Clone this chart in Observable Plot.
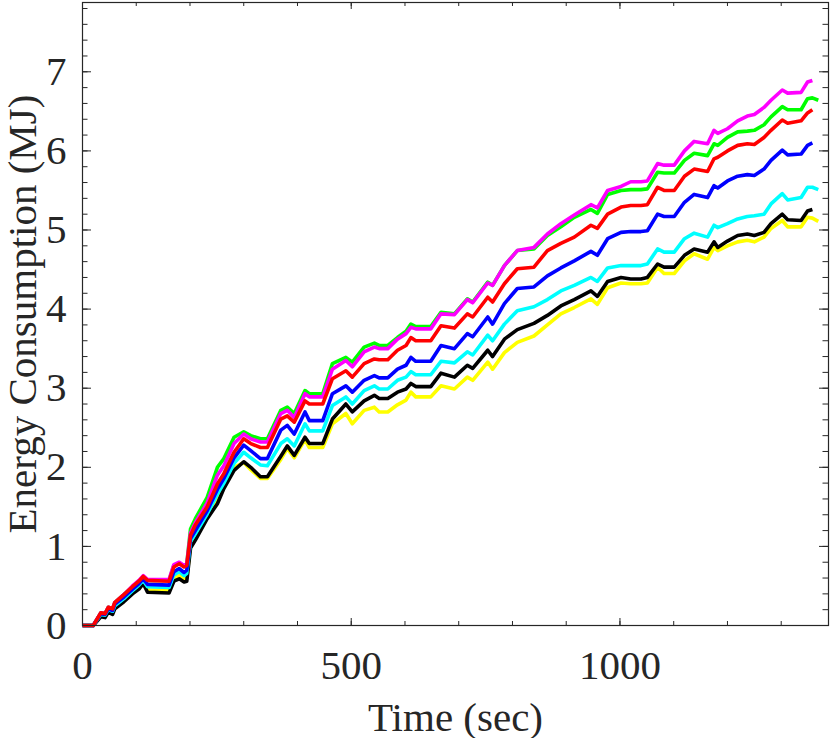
<!DOCTYPE html>
<html>
<head>
<meta charset="utf-8">
<script src="https://cdn.jsdelivr.net/npm/d3@7"></script>
<script src="https://cdn.jsdelivr.net/npm/@observablehq/plot@0.6"></script>
<style>
  html, body { margin: 0; padding: 0; background: #fff; }
  #chart svg { display: block; }
</style>
</head>
<body>
<div id="chart"></div>
<script>
// Time (sec) sample points shared by all series
const time = [0, 20, 34, 42, 48, 56, 60, 77, 93, 105, 113, 121, 161, 170, 180, 189, 194, 201, 210, 232,
  251, 263, 282, 300, 313, 331, 344, 369, 381, 394, 414, 422, 447, 465, 490, 502, 524, 543, 552, 568,
  586, 602, 611, 620, 648, 667, 692, 716, 726, 754, 763, 785, 809, 840, 865, 890, 915, 946, 958, 977,
  1002, 1020, 1039, 1051, 1070, 1082, 1101, 1120, 1138, 1163, 1175, 1182, 1200, 1219, 1237, 1250, 1268, 1281, 1302, 1312,
  1337, 1349, 1358, 1369];

// Energy consumption (MJ), one array per curve
const green = [0, 0, .16, .15, .23, .21, .29, .39, .49, .56, .62, .57, .57, .76, .79, .75, .78, 1.22, 1.35, 1.62,
  2.00, 2.11, 2.38, 2.45, 2.40, 2.36, 2.36, 2.72, 2.76, 2.68, 2.97, 2.93, 2.93, 3.31, 3.39, 3.33, 3.52, 3.57, 3.54, 3.54,
  3.64, 3.72, 3.81, 3.78, 3.78, 3.96, 3.94, 4.13, 4.09, 4.34, 4.30, 4.55, 4.74, 4.76, 4.93, 5.04, 5.16, 5.26, 5.21, 5.45,
  5.50, 5.51, 5.51, 5.52, 5.73, 5.72, 5.72, 5.88, 5.97, 5.94, 6.09, 6.07, 6.17, 6.24, 6.25, 6.26, 6.33, 6.43, 6.56, 6.52,
  6.52, 6.66, 6.67, 6.64];
const magenta = [0, 0, .16, .15, .23, .21, .29, .39, .50, .57, .63, .58, .58, .77, .80, .76, .78, 1.17, 1.30, 1.55,
  1.90, 2.02, 2.30, 2.42, 2.36, 2.32, 2.32, 2.68, 2.72, 2.63, 2.93, 2.89, 2.89, 3.24, 3.35, 3.27, 3.46, 3.52, 3.50, 3.50,
  3.62, 3.69, 3.77, 3.75, 3.75, 3.94, 3.93, 4.12, 4.08, 4.33, 4.30, 4.55, 4.74, 4.78, 4.95, 5.08, 5.19, 5.32, 5.28, 5.50,
  5.55, 5.61, 5.61, 5.62, 5.84, 5.82, 5.82, 6.00, 6.12, 6.09, 6.26, 6.22, 6.28, 6.38, 6.44, 6.46, 6.55, 6.64, 6.77, 6.73,
  6.74, 6.87, 6.89, null];
const red = [0, 0, .16, .15, .23, .21, .29, .39, .49, .56, .62, .57, .56, .74, .78, .74, .76, 1.14, 1.27, 1.50,
  1.79, 1.92, 2.19, 2.36, 2.30, 2.25, 2.25, 2.61, 2.65, 2.57, 2.84, 2.80, 2.80, 3.12, 3.22, 3.14, 3.31, 3.37, 3.36, 3.36,
  3.48, 3.54, 3.64, 3.60, 3.60, 3.79, 3.76, 3.94, 3.90, 4.15, 4.09, 4.32, 4.51, 4.53, 4.74, 4.83, 4.91, 5.06, 5.02, 5.20,
  5.29, 5.31, 5.31, 5.32, 5.54, 5.50, 5.50, 5.68, 5.77, 5.74, 5.90, 5.92, 6.00, 6.07, 6.09, 6.08, 6.17, 6.26, 6.39, 6.35,
  6.38, 6.48, 6.52, null];
const blue = [0, 0, .15, .14, .21, .19, .27, .36, .46, .53, .59, .52, .51, .68, .72, .67, .70, 1.10, 1.20, 1.45,
  1.72, 1.86, 2.12, 2.28, 2.21, 2.11, 2.11, 2.47, 2.53, 2.42, 2.70, 2.59, 2.59, 2.93, 3.03, 2.95, 3.10, 3.16, 3.13, 3.13,
  3.24, 3.29, 3.39, 3.34, 3.34, 3.54, 3.50, 3.69, 3.65, 3.90, 3.81, 4.07, 4.26, 4.28, 4.42, 4.52, 4.61, 4.73, 4.68, 4.89,
  4.97, 4.98, 4.98, 4.99, 5.20, 5.17, 5.17, 5.35, 5.45, 5.41, 5.56, 5.53, 5.62, 5.68, 5.70, 5.69, 5.77, 5.88, 6.01, 5.95,
  5.96, 6.07, 6.10, null];
const cyan = [0, 0, .14, .13, .20, .18, .25, .34, .44, .51, .57, .49, .48, .64, .68, .63, .66, 1.06, 1.16, 1.41,
  1.66, 1.80, 2.05, 2.19, 2.12, 2.03, 2.02, 2.30, 2.36, 2.27, 2.55, 2.46, 2.46, 2.78, 2.89, 2.80, 2.97, 3.03, 2.99, 2.99,
  3.10, 3.14, 3.21, 3.17, 3.17, 3.34, 3.32, 3.46, 3.42, 3.67, 3.60, 3.81, 3.98, 4.03, 4.12, 4.23, 4.30, 4.40, 4.35, 4.52,
  4.55, 4.55, 4.55, 4.57, 4.76, 4.72, 4.72, 4.89, 4.96, 4.91, 5.06, 5.03, 5.08, 5.14, 5.17, 5.18, 5.20, 5.33, 5.46, 5.38,
  5.41, 5.54, 5.54, 5.51];
const black = [0, 0, .11, .10, .17, .14, .21, .30, .40, .46, .53, .42, .41, .56, .59, .55, .56, .98, 1.08, 1.35,
  1.54, 1.73, 1.96, 2.07, 2.00, 1.88, 1.88, 2.14, 2.27, 2.15, 2.38, 2.30, 2.30, 2.61, 2.80, 2.70, 2.84, 2.91, 2.87, 2.87,
  2.95, 2.99, 3.06, 3.02, 3.02, 3.19, 3.14, 3.29, 3.25, 3.48, 3.40, 3.62, 3.74, 3.82, 3.92, 4.04, 4.12, 4.23, 4.16, 4.35,
  4.40, 4.38, 4.38, 4.40, 4.57, 4.53, 4.53, 4.68, 4.76, 4.72, 4.85, 4.78, 4.86, 4.93, 4.95, 4.93, 4.97, 5.08, 5.20, 5.13,
  5.12, 5.24, 5.26, null];
const yellow = [0, 0, .13, .12, .19, .16, .23, .32, .42, .49, .55, .45, .44, .60, .63, .58, .60, 1.02, 1.12, 1.37,
  1.60, 1.76, 2.00, 2.06, 1.97, 1.86, 1.86, 2.10, 2.24, 2.12, 2.35, 2.25, 2.25, 2.55, 2.68, 2.55, 2.72, 2.76, 2.70, 2.70,
  2.79, 2.85, 2.95, 2.89, 2.89, 3.03, 2.99, 3.14, 3.10, 3.33, 3.24, 3.45, 3.58, 3.66, 3.80, 3.94, 4.02, 4.13, 4.06, 4.27,
  4.33, 4.32, 4.32, 4.33, 4.53, 4.45, 4.45, 4.61, 4.70, 4.63, 4.78, 4.74, 4.80, 4.85, 4.87, 4.85, 4.91, 5.02, 5.12, 5.04,
  5.04, 5.16, 5.15, 5.11];

// Axis ticks and labels
const xMajor = [0, 500, 1000];
const xMinor = d3.range(0, 1400, 100);
const yMajor = [0, 1, 2, 3, 4, 5, 6, 7];
const yMinor = d3.range(0, 7.9, 0.2);
const xLabel = "Time (sec)";
const yLabel = "Energy Consumption (MJ)";

// Drawing order (later on top) and colours
const seriesList = [
  {name: "green", values: green, color: "#00ff00"},
  {name: "magenta", values: magenta, color: "#ff00ff"},
  {name: "yellow", values: yellow, color: "#ffff00"},
  {name: "black", values: black, color: "#000000"},
  {name: "cyan", values: cyan, color: "#00ffff"},
  {name: "blue", values: blue, color: "#0000ff"},
  {name: "red", values: red, color: "#ff0000"}
];

const W = 830, H = 738;
const mL = 82, mR = 2, mT = 2, mB = 113;
const fw = W - mL - mR, fh = H - mT - mB;
const axisColor = "#262626";
const font = "'Liberation Serif', 'Times New Roman', Times, serif";
const fmt = d3.format("d");

const lineMarks = seriesList.map(s =>
  Plot.line(time.map((t, i) => ({t, v: s.values[i]})), {
    x: "t", y: "v", stroke: s.color, strokeWidth: 3.6,
    strokeLinejoin: "round", strokeLinecap: "butt"
  })
);

const chart = Plot.plot({
  width: W, height: H,
  marginLeft: mL, marginRight: mR, marginTop: mT, marginBottom: mB,
  style: {fontFamily: font, background: "#fff", color: axisColor},
  x: {domain: [0, 1388]},
  y: {domain: [0, 7.876]},
  marks: [
    ...lineMarks,
    // inward tick marks on all four sides
    Plot.tickX(xMinor, {x: d => d, insetTop: fh - 4, stroke: axisColor}),
    Plot.tickX(xMajor, {x: d => d, insetTop: fh - 7, stroke: axisColor}),
    Plot.tickX(xMinor, {x: d => d, insetBottom: fh - 4, stroke: axisColor}),
    Plot.tickX(xMajor, {x: d => d, insetBottom: fh - 7, stroke: axisColor}),
    Plot.tickY(yMinor, {y: d => d, insetRight: fw - 5.5, stroke: axisColor}),
    Plot.tickY(yMajor, {y: d => d, insetRight: fw - 9, stroke: axisColor}),
    Plot.tickY(yMinor, {y: d => d, insetLeft: fw - 5.5, stroke: axisColor}),
    Plot.tickY(yMajor, {y: d => d, insetLeft: fw - 9, stroke: axisColor}),
    Plot.axisX(xMajor, {
      anchor: "bottom", tickSize: 0, tickPadding: 24, fontSize: 41, tickFormat: fmt,
      label: xLabel, labelAnchor: "center", labelArrow: "none", labelOffset: 105,
      fill: axisColor
    }),
    Plot.axisY(yMajor, {
      anchor: "left", tickSize: 0, tickPadding: 16, fontSize: 41, tickFormat: fmt,
      label: yLabel, labelAnchor: "center", labelArrow: "none", labelOffset: 76,
      fill: axisColor
    }),
    Plot.frame({stroke: axisColor, strokeWidth: 1.2})
  ]
});

document.getElementById("chart").appendChild(chart);
</script>
</body>
</html>
